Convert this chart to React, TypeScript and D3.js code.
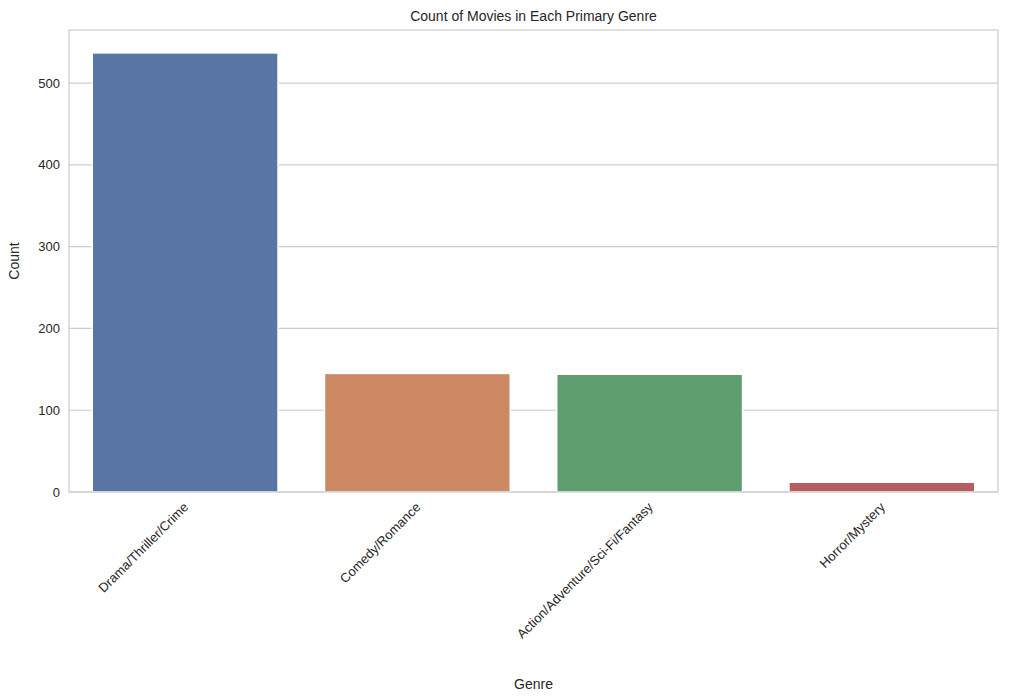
import React from 'react';
import * as d3 from 'd3';

const genres = ['Drama/Thriller/Crime', 'Comedy/Romance', 'Action/Adventure/Sci-Fi/Fantasy', 'Horror/Mystery'];
const counts = [537, 145, 144, 12];
const colors = ['#5875a4', '#cc8963', '#5f9e6e', '#b55d60'];
const yTicks = [0, 100, 200, 300, 400, 500];

const W = 1009;
const H = 700;
const margin = { top: 30, right: 11, bottom: 208, left: 69 };

const App: React.FC = () => {
    const innerW = W - margin.left - margin.right;
    const innerH = H - margin.top - margin.bottom;

    const x = d3.scaleBand().domain(genres).range([0, innerW]).paddingInner(0.2).paddingOuter(0.1);
    const y = d3.scaleLinear().domain([0, 565]).range([innerH, 0]);
    const font = '"Liberation Sans", Arial, sans-serif';

    return (
        <svg width={W} height={H} style={{ position: 'absolute', left: 0, top: 0, fontFamily: font }}>
            <rect width={W} height={H} fill="#fff" />
            <text x={margin.left + innerW / 2} y={21} textAnchor="middle" fontSize={14} fill="#262626">
                Count of Movies in Each Primary Genre
            </text>
            <g transform={`translate(${margin.left},${margin.top})`}>
                {yTicks.map(t => (
                    <g key={t}>
                        <line x1={0} x2={innerW} y1={y(t)} y2={y(t)} stroke="#cccccc" strokeWidth={1.2} />
                        <text x={-9} y={y(t)} dy="0.35em" textAnchor="end" fontSize={13} fill="#262626">{t}</text>
                    </g>
                ))}
                {genres.map((g, i) => (
                    <rect key={g} x={x(g)!} y={y(counts[i])} width={x.bandwidth()} height={innerH - y(counts[i])}
                        fill={colors[i]} stroke="#fff" strokeWidth={1.5} />
                ))}
                <rect x={0} y={0} width={innerW} height={innerH} fill="none" stroke="#cccccc" strokeWidth={1.2} />
                {genres.map(g => {
                    const cx = x(g)! + x.bandwidth() / 2;
                    return (
                        <text key={g} transform={`translate(${cx + 4},${innerH + 16}) rotate(-45)`} textAnchor="end"
                            fontSize={13} fill="#262626">{g}</text>
                    );
                })}
                <text x={innerW / 2} y={innerH + 197} textAnchor="middle" fontSize={14} fill="#262626">Genre</text>
                <text transform={`translate(${-50},${innerH / 2}) rotate(-90)`} textAnchor="middle" fontSize={14} fill="#262626">Count</text>
            </g>
        </svg>
    );
};

export default App;
